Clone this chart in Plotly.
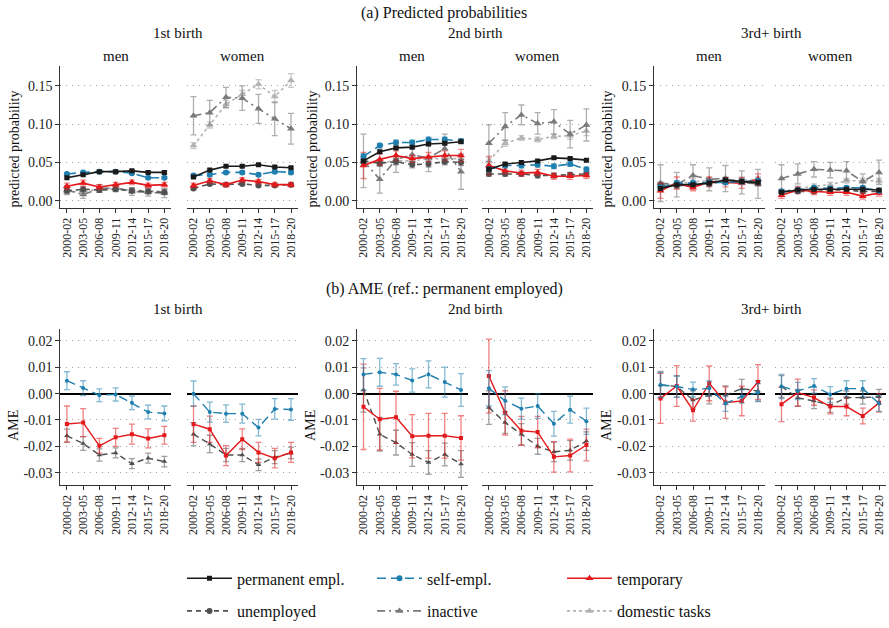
import plotly.graph_objects as go

periods = ["2000-02", "2003-05", "2006-08", "2009-11", "2012-14", "2015-17", "2018-20"]

legend_names = {"perm": "permanent empl.", "self": "self-empl.", "temp": "temporary",
                "unemp": "unemployed", "inact": "inactive", "dom": "domestic tasks"}

# ---------------- (a) predicted probabilities: point estimates ----------------
pp_b1_men = {
    "perm": [0.030, 0.034, 0.038, 0.038, 0.039, 0.037, 0.037],
    "self": [0.035, 0.037, 0.038, 0.038, 0.036, 0.030, 0.030],
    "temp": [0.019, 0.023, 0.018, 0.021, 0.024, 0.020, 0.021],
    "unemp": [0.013, 0.015, 0.014, 0.015, 0.013, 0.012, 0.011],
    "inact": [0.014, 0.008, 0.016, 0.017, 0.012, 0.011, 0.010],
    "dom": [0.012, 0.012, 0.015, 0.016, 0.014, 0.013, 0.012],
}
pp_b1_women = {
    "perm": [0.031, 0.040, 0.045, 0.045, 0.047, 0.044, 0.043],
    "self": [0.033, 0.034, 0.037, 0.037, 0.034, 0.038, 0.037],
    "temp": [0.020, 0.026, 0.021, 0.027, 0.025, 0.021, 0.021],
    "unemp": [0.016, 0.022, 0.021, 0.022, 0.020, 0.020, 0.021],
    "inact": [0.111, 0.115, 0.135, 0.134, 0.120, 0.107, 0.094],
    "dom": [0.072, 0.099, 0.126, 0.139, 0.152, 0.136, 0.157],
}
pp_b2_men = {
    "perm": [0.052, 0.064, 0.069, 0.070, 0.074, 0.075, 0.077],
    "self": [0.058, 0.072, 0.076, 0.076, 0.080, 0.080, 0.078],
    "temp": [0.046, 0.054, 0.059, 0.055, 0.057, 0.059, 0.059],
    "unemp": [0.052, 0.049, 0.051, 0.047, 0.048, 0.051, 0.050],
    "inact": [0.052, 0.028, 0.054, 0.060, 0.056, 0.068, 0.038],
    "dom": [0.050, 0.050, 0.052, 0.052, 0.055, 0.055, 0.055],
}
pp_b2_women = {
    "perm": [0.041, 0.048, 0.050, 0.052, 0.056, 0.055, 0.053],
    "self": [0.041, 0.046, 0.046, 0.047, 0.045, 0.048, 0.041],
    "temp": [0.046, 0.039, 0.036, 0.037, 0.032, 0.032, 0.033],
    "unemp": [0.035, 0.035, 0.035, 0.033, 0.033, 0.034, 0.035],
    "inact": [0.075, 0.097, 0.112, 0.101, 0.103, 0.087, 0.099],
    "dom": [0.052, 0.075, 0.082, 0.080, 0.084, 0.085, 0.091],
}
pp_b3_men = {
    "perm": [0.016, 0.021, 0.021, 0.023, 0.027, 0.025, 0.024],
    "self": [0.017, 0.023, 0.023, 0.024, 0.024, 0.025, 0.026],
    "temp": [0.013, 0.023, 0.017, 0.025, 0.024, 0.023, 0.028],
    "unemp": [0.020, 0.020, 0.020, 0.022, 0.026, 0.025, 0.023],
    "inact": [0.023, 0.021, 0.033, 0.028, 0.029, 0.024, 0.022],
    "dom": [0.020, 0.022, 0.025, 0.026, 0.027, 0.027, 0.027],
}
pp_b3_women = {
    "perm": [0.011, 0.014, 0.015, 0.015, 0.015, 0.015, 0.014],
    "self": [0.012, 0.014, 0.017, 0.016, 0.017, 0.017, 0.013],
    "temp": [0.007, 0.014, 0.012, 0.011, 0.011, 0.006, 0.010],
    "unemp": [0.012, 0.012, 0.012, 0.014, 0.014, 0.012, 0.012],
    "inact": [0.029, 0.035, 0.041, 0.040, 0.039, 0.025, 0.037],
    "dom": [0.012, 0.016, 0.019, 0.021, 0.026, 0.026, 0.026],
}

# ---------------- (a) predicted probabilities: CI half-widths ----------------
pp_b1_men_ci = {
    "perm": [0.0015] * 7, "self": [0.0015] * 7,
    "temp": [0.004, 0.004, 0.003, 0.003, 0.003, 0.003, 0.003],
    "unemp": [0.003] * 7,
    "inact": [0.006, 0.005, 0.005, 0.004, 0.005, 0.005, 0.006],
    "dom": [0.003] * 7,
}
pp_b1_women_ci = {
    "perm": [0.0015] * 7, "self": [0.002] * 7, "temp": [0.003] * 7, "unemp": [0.002] * 7,
    "inact": [0.025, 0.016, 0.013, 0.016, 0.019, 0.022, 0.020],
    "dom": [0.004, 0.004, 0.005, 0.005, 0.006, 0.008, 0.009],
}
pp_b2_men_ci = {
    "perm": [0.002] * 7, "self": [0.003] * 7,
    "temp": [0.017, 0.007, 0.006, 0.005, 0.006, 0.006, 0.008],
    "unemp": [0.004] * 7,
    "inact": [0.035, 0.018, 0.017, 0.009, 0.018, 0.019, 0.023],
    "dom": [0.004] * 7,
}
pp_b2_women_ci = {
    "perm": [0.0015] * 7, "self": [0.003] * 7,
    "temp": [0.012, 0.004, 0.004, 0.004, 0.004, 0.004, 0.004],
    "unemp": [0.003] * 7,
    "inact": [0.024, 0.018, 0.013, 0.014, 0.016, 0.018, 0.021],
    "dom": [0.004, 0.004, 0.003, 0.003, 0.003, 0.005, 0.006],
}
pp_b3_men_ci = {
    "perm": [0.002] * 7, "self": [0.003] * 7,
    "temp": [0.010, 0.008, 0.004, 0.006, 0.006, 0.007, 0.007],
    "unemp": [0.004] * 7,
    "inact": [0.024, 0.016, 0.014, 0.015, 0.017, 0.015, 0.019],
    "dom": [0.004] * 7,
}
pp_b3_women_ci = {
    "perm": [0.0015] * 7, "self": [0.002] * 7, "temp": [0.004] * 7, "unemp": [0.002] * 7,
    "inact": [0.018, 0.013, 0.010, 0.010, 0.012, 0.010, 0.016],
    "dom": [0.003] * 7,
}

# ---------------- (b) AME (ref.: permanent employed) ----------------
ame_b1_men = {
    "self": [0.0049, 0.0021, -0.0006, -0.0003, -0.0035, -0.0070, -0.0075],
    "temp": [-0.0115, -0.0110, -0.0198, -0.0166, -0.0154, -0.0170, -0.0158],
    "unemp": [-0.0160, -0.0189, -0.0233, -0.0225, -0.0266, -0.0245, -0.0258],
}
ame_b1_women = {
    "self": [0.0000, -0.0070, -0.0076, -0.0076, -0.0129, -0.0058, -0.0060],
    "temp": [-0.0116, -0.0135, -0.0235, -0.0173, -0.0223, -0.0245, -0.0223],
    "unemp": [-0.0154, -0.0191, -0.0233, -0.0233, -0.0270, -0.0241, -0.0225],
}
ame_b2_men = {
    "self": [0.0073, 0.0081, 0.0073, 0.0050, 0.0073, 0.0044, 0.0014],
    "temp": [-0.0050, -0.0097, -0.0090, -0.0162, -0.0160, -0.0160, -0.0168],
    "unemp": [0.0014, -0.0154, -0.0186, -0.0231, -0.0261, -0.0231, -0.0267],
}
ame_b2_women = {
    "self": [0.0020, -0.0027, -0.0057, -0.0047, -0.0114, -0.0061, -0.0105],
    "temp": [0.0067, -0.0073, -0.0141, -0.0146, -0.0240, -0.0235, -0.0195],
    "unemp": [-0.0053, -0.0110, -0.0154, -0.0200, -0.0221, -0.0215, -0.0180],
}
ame_b3_men = {
    "self": [0.0033, 0.0027, 0.0016, 0.0020, -0.0037, -0.0011, 0.0004],
    "temp": [-0.0018, 0.0029, -0.0063, 0.0039, -0.0034, -0.0028, 0.0044],
    "unemp": [0.0033, 0.0027, -0.0024, -0.0006, -0.0006, 0.0019, 0.0010],
}
ame_b3_women = {
    "self": [0.0027, 0.0010, 0.0029, -0.0003, 0.0019, 0.0019, -0.0037],
    "temp": [-0.0040, 0.0004, -0.0015, -0.0049, -0.0049, -0.0085, -0.0035],
    "unemp": [0.0027, -0.0016, -0.0028, -0.0044, -0.0015, -0.0015, -0.0012],
}
ame_b1_men_ci = {
    "self": [0.0034, 0.0028, 0.0024, 0.0025, 0.0026, 0.0026, 0.0028],
    "temp": [0.0068, 0.0053, 0.0028, 0.0034, 0.0038, 0.0036, 0.0034],
    "unemp": [0.0025, 0.0026, 0.0023, 0.0019, 0.0019, 0.0019, 0.0020],
}
ame_b1_women_ci = {
    "self": [0.0048, 0.0038, 0.0033, 0.0036, 0.0031, 0.0039, 0.0041],
    "temp": [0.0069, 0.0050, 0.0038, 0.0039, 0.0038, 0.0037, 0.0038],
    "unemp": [0.0044, 0.0033, 0.0025, 0.0025, 0.0022, 0.0025, 0.0022],
}
ame_b2_men_ci = {
    "self": [0.0060, 0.0053, 0.0041, 0.0044, 0.0051, 0.0057, 0.0062],
    "temp": [0.0162, 0.0117, 0.0099, 0.0082, 0.0085, 0.0085, 0.0084],
    "unemp": [0.0084, 0.0064, 0.0047, 0.0045, 0.0045, 0.0043, 0.0051],
}
ame_b2_women_ci = {
    "self": [0.0067, 0.0053, 0.0040, 0.0047, 0.0047, 0.0051, 0.0050],
    "temp": [0.0140, 0.0084, 0.0055, 0.0060, 0.0058, 0.0062, 0.0060],
    "unemp": [0.0064, 0.0041, 0.0040, 0.0030, 0.0037, 0.0037, 0.0035],
}
ame_b3_men_ci = {
    "self": [0.0047, 0.0039, 0.0028, 0.0028, 0.0030, 0.0025, 0.0034],
    "temp": [0.0095, 0.0077, 0.0041, 0.0066, 0.0060, 0.0056, 0.0066],
    "unemp": [0.0051, 0.0041, 0.0035, 0.0033, 0.0035, 0.0035, 0.0038],
}
ame_b3_women_ci = {
    "self": [0.0046, 0.0033, 0.0028, 0.0030, 0.0030, 0.0030, 0.0030],
    "temp": [0.0066, 0.0051, 0.0029, 0.0028, 0.0035, 0.0030, 0.0035],
    "unemp": [0.0041, 0.0032, 0.0029, 0.0027, 0.0025, 0.0025, 0.0028],
}

pp_ticks = [0.0, 0.05, 0.10, 0.15]
pp_ticktext = ["0.00", "0.05", "0.10", "0.15"]
ame_ticks = [-0.03, -0.02, -0.01, 0.0, 0.01, 0.02]
ame_ticktext = ["-0.03", "-0.02", "-0.01", "0.00", "0.01", "0.02"]

# ---------------- styling ----------------
W, H = 889, 628
FONT = "Liberation Serif, serif"
style_top = {
    "perm": dict(color="#1a1a1a", dash="solid", symbol="square", size=5, err="rgba(70,70,70,0.55)"),
    "self": dict(color="#1f7fae", dash="9px,5px", symbol="circle", size=6, err="rgba(31,127,174,0.5)"),
    "temp": dict(color="#e3191c", dash="solid", symbol="triangle-up", size=7, err="rgba(227,25,28,0.5)"),
    "unemp": dict(color="#505050", dash="5px,4px", symbol="circle", size=6, err="rgba(80,80,80,0.5)"),
    "inact": dict(color="#7a7a7a", dash="8px,4px,2px,4px", symbol="triangle-up", size=7, err="rgba(122,122,122,0.6)"),
    "dom": dict(color="#b3b3b3", dash="3px,3px", symbol="triangle-up", size=7, err="rgba(179,179,179,0.7)"),
}
style_bot = {
    "unemp": dict(color="#505050", dash="6px,4px", symbol="triangle-up", size=5, err="rgba(80,80,80,0.55)"),
    "temp": dict(color="#e3191c", dash="solid", symbol="square", size=4, err="rgba(227,25,28,0.55)"),
    "self": dict(color="#1f7fae", dash="9px,5px", symbol="circle", size=4, err="rgba(31,127,174,0.55)"),
}

lefts = [60.4, 187, 357, 482.4, 654, 775]
pw = 110.5
top_dom = [1 - 210 / H, 1 - 67 / H]
bot_dom = [1 - 490 / H, 1 - 332 / H]

top_panels = [(pp_b1_men, pp_b1_men_ci), (pp_b1_women, pp_b1_women_ci),
              (pp_b2_men, pp_b2_men_ci), (pp_b2_women, pp_b2_women_ci),
              (pp_b3_men, pp_b3_men_ci), (pp_b3_women, pp_b3_women_ci)]
bot_panels = [(ame_b1_men, ame_b1_men_ci), (ame_b1_women, ame_b1_women_ci),
              (ame_b2_men, ame_b2_men_ci), (ame_b2_women, ame_b2_women_ci),
              (ame_b3_men, ame_b3_men_ci), (ame_b3_women, ame_b3_women_ci)]

fig = go.Figure()
layout = {}
legend_of = {"perm": "legend", "self": "legend", "temp": "legend",
             "unemp": "legend2", "inact": "legend2", "dom": "legend2"}


def add_axes(idx, left, ydom, ticks, ticktext, yrange, is_men, zeroline):
    xa = "xaxis" if idx == 1 else f"xaxis{idx}"
    ya = "yaxis" if idx == 1 else f"yaxis{idx}"
    layout[xa] = dict(
        domain=[left / W, min(1.0, (left + pw) / W)], anchor=f"y{idx}" if idx > 1 else "y",
        type="category", categoryorder="array", categoryarray=periods,
        range=[-0.4, 6.4], showgrid=False, showline=True, linecolor="#333", linewidth=1,
        ticks="outside", ticklen=4, tickcolor="#333", tickangle=-90,
        tickfont=dict(family=FONT, size=12, color="#222"), zeroline=False, fixedrange=True)
    layout[ya] = dict(
        domain=ydom, anchor=f"x{idx}" if idx > 1 else "x", range=yrange,
        tickvals=ticks, ticktext=ticktext, showgrid=True, gridcolor="#a0a0a0",
        griddash="1px,5px", gridwidth=1, zeroline=zeroline, zerolinecolor="#000",
        zerolinewidth=2, showline=is_men, linecolor="#333", linewidth=1,
        ticks="outside" if is_men else "", ticklen=4, tickcolor="#333",
        showticklabels=is_men, tickfont=dict(family=FONT, size=14, color="#222"),
        fixedrange=True)


for i, (vals, cis) in enumerate(top_panels):
    idx = i + 1
    add_axes(idx, lefts[i], top_dom, pp_ticks, pp_ticktext, [-0.0095, 0.1755], i % 2 == 0, False)
    for key in ["dom", "inact", "unemp", "temp", "self", "perm"]:
        s = style_top[key]
        fig.add_trace(go.Scatter(
            x=periods, y=vals[key], mode="lines+markers", name=legend_names[key],
            xaxis=f"x{idx}" if idx > 1 else "x", yaxis=f"y{idx}" if idx > 1 else "y",
            line=dict(color=s["color"], dash=s["dash"], width=1.6),
            marker=dict(symbol=s["symbol"], size=s["size"], color=s["color"]),
            error_y=dict(type="data", array=cis[key], color=s["err"], thickness=1.3, width=3),
            showlegend=(i == 0), legend=legend_of[key],
            legendrank={"perm": 1, "self": 2, "temp": 3, "unemp": 4, "inact": 5, "dom": 6}[key],
        ))

for i, (vals, cis) in enumerate(bot_panels):
    idx = i + 7
    add_axes(idx, lefts[i], bot_dom, ame_ticks, ame_ticktext, [-0.0348, 0.0246], i % 2 == 0, True)
    for key in ["unemp", "temp", "self"]:
        s = style_bot[key]
        fig.add_trace(go.Scatter(
            x=periods, y=vals[key], mode="lines+markers", name=legend_names[key],
            xaxis=f"x{idx}", yaxis=f"y{idx}",
            line=dict(color=s["color"], dash=s["dash"], width=1.4),
            marker=dict(symbol=s["symbol"], size=s["size"], color=s["color"]),
            error_y=dict(type="data", array=cis[key], color=s["err"], thickness=1.3, width=3),
            showlegend=False,
        ))

ann = []


def txt(text, x, y, size, angle=0):
    ann.append(dict(text=text, x=x / W, y=1 - y / H, xref="paper", yref="paper",
                    showarrow=False, textangle=angle, xanchor="center", yanchor="middle",
                    font=dict(family=FONT, size=size, color="#111")))


txt("(a) Predicted probabilities", 444, 13, 16)
txt("(b) AME (ref.: permanent employed)", 444, 292, 16)
group_x = [178, 475, 771]
for g, name in zip(group_x, ["1st birth", "2nd birth", "3rd+ birth"]):
    txt(name, g, 33, 15)
    txt(name, g, 312, 15)
for i, left in enumerate(lefts):
    txt("men" if i % 2 == 0 else "women", left + pw / 2, 57, 15)
for x in [15, 313, 608]:
    txt("predicted probability", x, 151, 14, -90)
for x in [14, 311, 607]:
    txt("AME", x, 430, 14, -90)

legend_common = dict(orientation="h", xanchor="left", yanchor="middle", entrywidth=130,
                     itemwidth=45, bgcolor="rgba(0,0,0,0)",
                     font=dict(family=FONT, size=16, color="#111"), traceorder="normal")

fig.update_layout(
    **layout,
    annotations=ann,
    width=W, height=H,
    margin=dict(l=0, r=0, t=0, b=0),
    paper_bgcolor="white", plot_bgcolor="white",
    font=dict(family=FONT),
    legend=dict(x=182 / W, y=1 - 584 / H, **legend_common),
    legend2=dict(x=182 / W, y=1 - 617 / H, **legend_common),
)

fig.write_html("out.html", config={"displayModeBar": False},
               post_script="document.body.style.margin='0px';")
